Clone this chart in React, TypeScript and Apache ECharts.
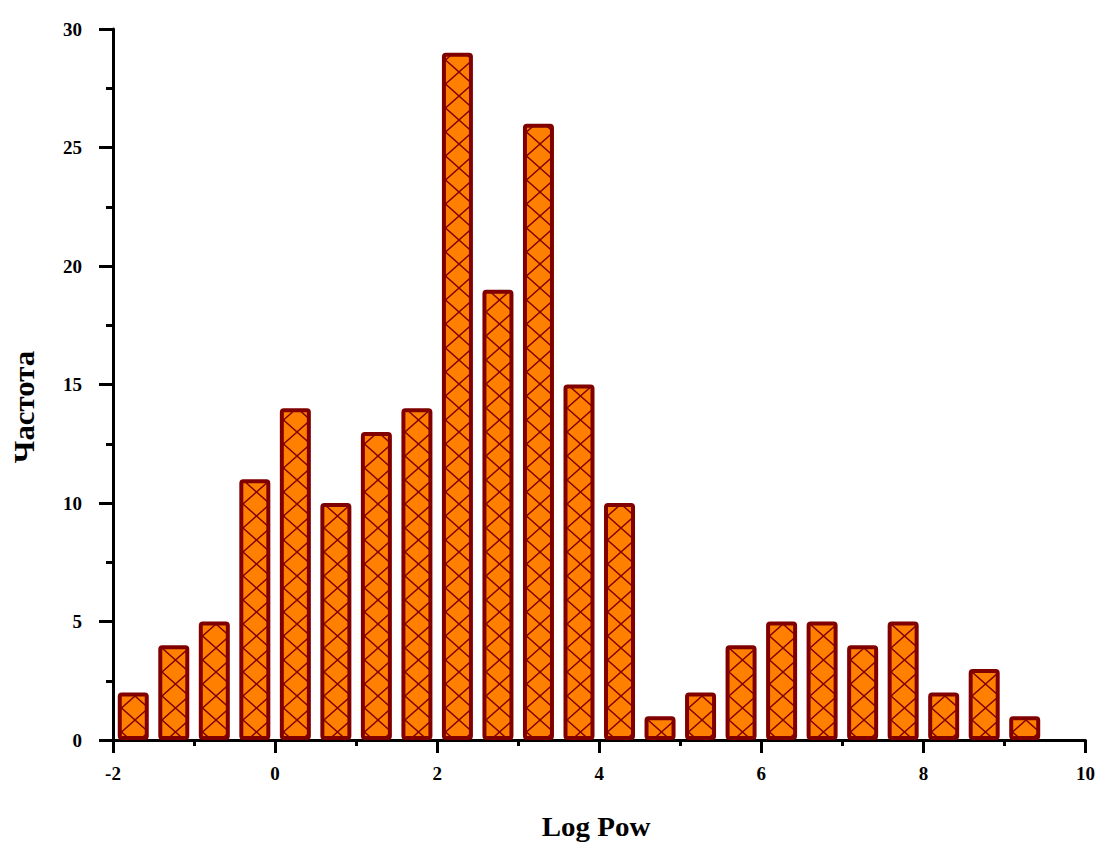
import React, { useEffect, useRef } from "react";
import * as echarts from "echarts";

// ---- data ----
const binCenters = [
  -1.75, -1.25, -0.75, -0.25, 0.25, 0.75, 1.25, 1.75, 2.25, 2.75, 3.25, 3.75,
  4.25, 4.75, 5.25, 5.75, 6.25, 6.75, 7.25, 7.75, 8.25, 8.75, 9.25,
];
const frequencies = [
  2, 4, 5, 11, 14, 10, 13, 14, 29, 19, 26, 15, 10, 1, 2, 4, 5, 5, 4, 5, 2, 3, 1,
];
const xRange = { min: -2, max: 10, interval: 2 };
const yRange = { min: 0, max: 30, interval: 5 };
const xTitle = "Log Pow";
const yTitle = "Частота";

const FILL = "#FF8000";
const EDGE = "#800000";
const BAR_W = 31;
const BORDER = 4;

function makeTile(w: number, h: number): HTMLCanvasElement {
  const c = document.createElement("canvas");
  c.width = w;
  c.height = h;
  const ctx = c.getContext("2d")!;
  ctx.fillStyle = FILL;
  ctx.fillRect(0, 0, w, h);
  ctx.strokeStyle = EDGE;
  ctx.lineWidth = 1.4;
  ctx.beginPath();
  for (const k of [-1, 0, 1]) {
    ctx.moveTo(k * w - w * 0.2, -h * 0.2);
    ctx.lineTo(k * w + w * 1.2, h * 1.2);
    ctx.moveTo(k * w + w * 1.2, -h * 0.2);
    ctx.lineTo(k * w - w * 0.2, h * 1.2);
  }
  ctx.stroke();
  return c;
}

const FONT = "Liberation Serif";

export default function App() {
  const ref = useRef<HTMLDivElement>(null);
  useEffect(() => {
    if (!ref.current) return;
    const chart = echarts.init(ref.current, null, { renderer: "svg" });
    const labelStyle = {
      color: "#000",
      fontFamily: FONT,
      fontWeight: "bold" as const,
      fontSize: 19,
    };
    chart.setOption({
      animation: false,
      backgroundColor: "#fff",
      grid: { left: 113, right: 8, top: 29, bottom: 107, containLabel: false },
      xAxis: {
        type: "value",
        min: xRange.min,
        max: xRange.max,
        interval: xRange.interval,
        axisLine: { show: true, onZero: false, lineStyle: { color: "#000", width: 3 } },
        axisTick: { show: true, length: 13, lineStyle: { color: "#000", width: 3 } },
        minorTick: { show: true, splitNumber: 2, length: 6, lineStyle: { color: "#000", width: 3 } },
        splitLine: { show: false },
        minorSplitLine: { show: false },
        axisLabel: { ...labelStyle, margin: 24 },
      },
      yAxis: {
        type: "value",
        min: yRange.min,
        max: yRange.max,
        interval: yRange.interval,
        axisLine: { show: true, onZero: false, lineStyle: { color: "#000", width: 3 } },
        axisTick: { show: true, length: 14, lineStyle: { color: "#000", width: 3 } },
        minorTick: { show: true, splitNumber: 2, length: 7, lineStyle: { color: "#000", width: 3 } },
        splitLine: { show: false },
        minorSplitLine: { show: false },
        axisLabel: { ...labelStyle, margin: 31 },
      },
      graphic: [
        {
          type: "text",
          x: 24,
          y: 407,
          rotation: Math.PI / 2,
          scaleX: 1.4,
          scaleY: 1.35,
          style: {
            text: yTitle,
            fontFamily: FONT,
            fontWeight: "bold",
            fontSize: 22,
            fill: "#000",
            align: "center",
            verticalAlign: "middle",
          },
        },
        {
          type: "text",
          x: 596,
          y: 827,
          scaleX: 1.45,
          scaleY: 1.4,
          style: {
            text: xTitle,
            fontFamily: FONT,
            fontWeight: "bold",
            fontSize: 20,
            fill: "#000",
            align: "center",
            verticalAlign: "middle",
          },
        },
      ],
      series: [
        {
          type: "bar",
          barWidth: BAR_W,
          data: binCenters.map((c, i) => [c, frequencies[i]]),
          itemStyle: {
            color: FILL,
            borderColor: EDGE,
            borderWidth: BORDER,
            borderRadius: 2,
          },
        },
      ],
    });

    const base = chart.convertToPixel({ gridIndex: 0 }, [0, 0]) as number[];
    const one = chart.convertToPixel({ gridIndex: 0 }, [0, 1]) as number[];
    const unitH = Math.round(base[1] - one[1]);
    const innerW = BAR_W - BORDER;
    const tile = makeTile(innerW, unitH);
    const data = binCenters.map((c, i) => {
      const p = chart.convertToPixel({ gridIndex: 0 }, [c, 0]) as number[];
      const left = p[0] - innerW / 2;
      return {
        value: [c, frequencies[i]],
        itemStyle: {
          color: {
            image: tile,
            repeat: "repeat",
            x: left,
            y: p[1],
          },
        },
      };
    });
    chart.setOption({ series: [{ data }] });

    return () => chart.dispose();
  }, []);
  return (
    <div
      ref={ref}
      style={{ position: "absolute", left: 0, top: 0, width: 1098, height: 847 }}
    />
  );
}
